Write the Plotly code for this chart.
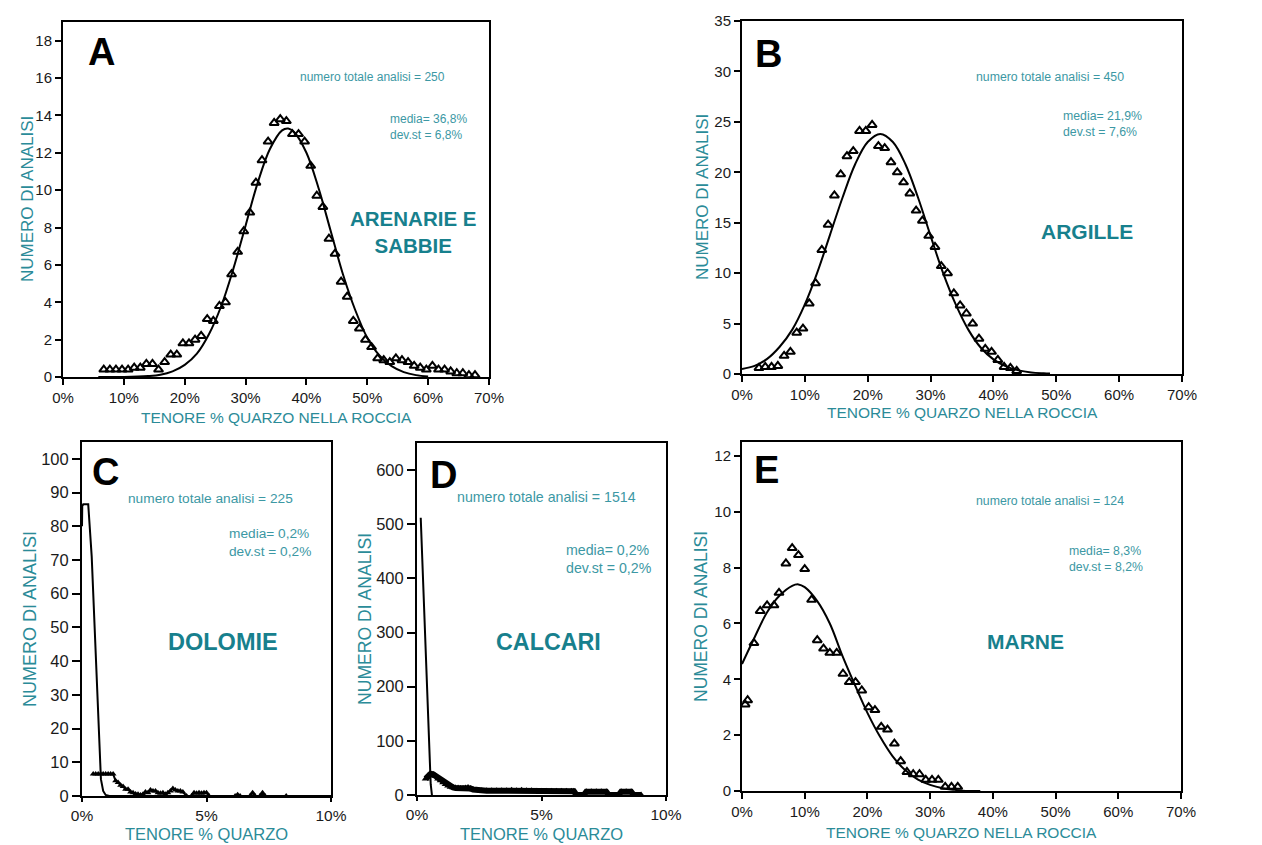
import plotly.graph_objects as go

W, H = 1262, 845

# ---------------- DATA ----------------
# Panel A - ARENARIE E SABBIE
a_x = [6.7, 7.7, 8.7, 9.7, 10.7, 11.7, 12.7, 13.7, 14.7, 15.7, 16.7, 17.7, 18.7, 19.7, 20.7,
       21.7, 22.7, 23.7, 24.7, 25.7, 26.7, 27.7, 28.7, 29.7, 30.7, 31.7, 32.7, 33.7, 34.7, 35.7,
       36.7, 37.7, 38.7, 39.7, 40.7, 41.7, 42.7, 43.7, 44.7, 45.7, 46.7, 47.7, 48.7, 49.7, 50.7,
       51.7, 52.7, 53.7, 54.7, 55.7, 56.7, 57.7, 58.7, 59.7, 60.7, 61.7, 62.7, 63.7, 64.7, 65.7,
       66.7, 67.7]
a_y = [0.4, 0.4, 0.4, 0.4, 0.4, 0.5, 0.5, 0.7, 0.7, 0.4, 0.8, 1.2, 1.2, 1.8, 1.8,
       2.0, 2.2, 3.1, 3.0, 3.8, 4.0, 5.5, 6.7, 7.8, 8.8, 10.4, 11.6, 12.6, 13.6, 13.8,
       13.7, 13.0, 13.0, 12.6, 11.3, 9.7, 9.1, 7.4, 6.6, 5.1, 4.3, 3.0, 2.6, 2.0, 1.6,
       1.0, 0.9, 0.8, 1.0, 0.9, 0.8, 0.6, 0.5, 0.4, 0.6, 0.4, 0.4, 0.3, 0.2, 0.2,
       0.1, 0.1]
a_fit_x = [5.8, 10, 14, 16, 18, 20, 22, 24, 26, 28, 30, 32, 34, 36, 37, 38, 40, 42, 44, 46,
           48, 50, 52, 54, 56, 58, 60]
a_fit_y = [0.0, 0.0, 0.05, 0.12, 0.3, 0.65, 1.25, 2.3, 3.8, 5.8, 8.1, 10.4, 12.2, 13.2, 13.3,
           13.1, 12.0, 10.1, 7.8, 5.5, 3.6, 2.1, 1.15, 0.58, 0.26, 0.1, 0.03]

# Panel B - ARGILLE
b_x = [2.7, 3.7, 4.7, 5.7, 6.7, 7.7, 8.7, 9.7, 10.7, 11.7, 12.7, 13.7, 14.7, 15.7, 16.7,
       17.7, 18.7, 19.7, 20.7, 21.7, 22.7, 23.7, 24.7, 25.7, 26.7, 27.7, 28.7, 29.7, 30.7,
       31.7, 32.7, 33.7, 34.7, 35.7, 36.7, 37.7, 38.7, 39.7, 40.7, 41.7, 42.7, 43.7]
b_y = [0.6, 0.7, 0.7, 0.8, 1.8, 2.2, 4.1, 4.5, 7.0, 9.0, 12.3, 14.8, 17.7, 19.8, 21.6,
       22.1, 24.1, 24.1, 24.7, 22.6, 22.4, 21.0, 20.0, 19.0, 17.9, 16.2, 15.2, 13.7, 12.6,
       10.7, 10.0, 8.0, 6.8, 6.0, 5.0, 3.5, 2.5, 2.2, 1.4, 0.7, 0.6, 0.3]
b_fit_x = [0, 2, 4, 6, 8, 10, 12, 14, 16, 18, 20, 22, 24, 26, 28, 30, 32, 34, 36, 38, 40,
           42, 44, 46, 48, 49]
b_fit_y = [0.5, 0.8, 1.5, 2.7, 4.4, 6.9, 10.1, 13.8, 17.5, 20.8, 23.0, 23.8, 23.0, 20.8,
           17.5, 13.7, 10.0, 6.9, 4.4, 2.6, 1.45, 0.75, 0.36, 0.16, 0.07, 0.04]

# Panel C - DOLOMIE
c_x = [0.45, 0.55, 0.65, 0.75, 0.85, 0.95, 1.05, 1.15, 1.25, 1.35, 1.45, 1.55, 1.65, 1.75,
       1.85, 1.95, 2.05, 2.15, 2.25, 2.35, 2.45, 2.55, 2.65, 2.75, 2.85, 2.95, 3.05, 3.15,
       3.25, 3.35, 3.45, 3.55, 3.65, 3.75, 3.85, 3.95, 4.05, 4.2, 4.4, 4.5, 4.6, 4.7, 4.8,
       4.9, 5.0, 5.1, 6.15, 6.25, 6.35, 6.75, 6.85, 6.95, 7.15, 7.25, 7.35, 8.2]
c_y = [6.5, 6.5, 6.5, 6.5, 6.5, 6.5, 6.5, 6.5, 6.5, 4.5, 4.0, 3.2, 2.8, 2.0,
       2.0, 1.2, 1.0, 0.6, 0.5, 0.3, 0.5, 1.2, 1.0, 1.8, 1.5, 1.5, 1.0, 0.8,
       1.0, 0.5, 1.0, 1.5, 2.2, 1.8, 1.5, 1.5, 1.2, 0.0, 0.0, 1.0, 0.8, 1.0, 0.8,
       1.0, 1.0, 0.0, 0.0, 0.4, 0.0, 0.0, 1.0, 0.0, 0.0, 1.0, 0.0, 0.0]
c_fit_x = [0, 0.01, 0.05, 0.25, 0.39, 0.52, 0.65, 0.76, 0.85, 0.95, 1.1, 10]
c_fit_y = [80, 86, 86.5, 86.5, 71, 46, 21.5, 5, 1.5, 0.3, 0, 0]

# Panel D - CALCARI
d_x = [0.35, 0.45, 0.55, 0.65, 0.75, 0.85, 0.95, 1.05, 1.15, 1.25, 1.35, 1.45, 1.55, 1.65,
       1.75, 1.85, 1.95, 2.05, 2.15, 2.25, 2.4, 2.6, 2.8, 3.0, 3.2, 3.4, 3.6, 3.8, 4.0, 4.2,
       4.4, 4.6, 4.8, 5.0, 5.2, 5.4, 5.6, 5.8, 6.0, 6.2, 6.3, 6.4, 6.7, 6.8, 7.0, 7.2, 7.4,
       7.6, 7.7, 8.1, 8.2, 8.4, 8.6, 8.7, 9.0]
d_y = [30, 36, 39, 38, 35, 30, 27, 23, 20, 17, 15, 14, 13, 13,
       12, 12, 13, 14, 12, 10, 9, 8, 8, 8, 8, 8, 8, 9, 8, 9,
       8, 8, 7, 7, 7, 7, 7, 7, 7, 7, 7, 0, 0, 6, 6, 6, 6,
       6, 0, 0, 6, 6, 6, 0, 0]
d_fit_x = [0.15, 0.3, 0.45, 0.55, 0.6]
d_fit_y = [512, 330, 130, 20, 0]

# Panel E - MARNE
e_x = [0.5, 0.9, 1.9, 2.9, 4.0, 5.1, 5.9, 7.0, 8.0, 9.0, 10.0, 11.1, 12.0, 13.0, 14.0, 15.1,
       16.1, 17.1, 18.1, 19.1, 20.2, 21.2, 22.2, 23.2, 24.3, 25.3, 26.3, 27.3, 28.3, 29.3,
       30.3, 31.3, 32.4, 33.4, 34.4]
e_y = [3.1, 3.25, 5.3, 6.45, 6.65, 6.65, 7.1, 8.15, 8.7, 8.45, 7.95, 6.85, 5.4, 5.1, 4.95,
       4.95, 4.2, 3.9, 3.9, 3.6, 3.0, 2.9, 2.3, 2.2, 1.7, 1.07, 0.68, 0.6, 0.6, 0.4,
       0.4, 0.4, 0.15, 0.15, 0.15]
e_fit_x = [0, 2, 4, 6, 8, 9, 10, 12, 14, 16, 18, 20, 22, 24, 26, 28, 30, 32, 34, 36, 38]
e_fit_y = [4.55, 5.5, 6.4, 7.0, 7.35, 7.4, 7.3, 6.8, 6.0, 4.85, 3.8, 2.8, 1.95, 1.25, 0.75,
           0.42, 0.22, 0.1, 0.04, 0.0, 0.0]

panels = {
    "A": dict(label="A", name="ARENARIE E<br>SABBIE", n="250", media="36,8%", dev="6,8%",
              x=a_x, y=a_y, fx=a_fit_x, fy=a_fit_y, xr=[0, 70], yr=[0, 19], xd=10, yd=2),
    "B": dict(label="B", name="ARGILLE", n="450", media="21,9%", dev="7,6%",
              x=b_x, y=b_y, fx=b_fit_x, fy=b_fit_y, xr=[0, 70], yr=[0, 35], xd=10, yd=5),
    "C": dict(label="C", name="DOLOMIE", n="225", media="0,2%", dev="0,2%",
              x=c_x, y=c_y, fx=c_fit_x, fy=c_fit_y, xr=[0, 10], yr=[0, 105], xd=5, yd=10),
    "D": dict(label="D", name="CALCARI", n="1514", media="0,2%", dev="0,2%",
              x=d_x, y=d_y, fx=d_fit_x, fy=d_fit_y, xr=[0, 10], yr=[0, 650], xd=5, yd=100),
    "E": dict(label="E", name="MARNE", n="124", media="8,3%", dev="8,2%",
              x=e_x, y=e_y, fx=e_fit_x, fy=e_fit_y, xr=[0, 70], yr=[0, 12.5], xd=10, yd=2),
}

# ---------------- LAYOUT (pixel boxes) ----------------
boxes = {  # left, top, right, bottom in px
    "A": (63, 22, 489, 377),
    "B": (742, 21, 1182, 374),
    "C": (82, 442, 331, 796),
    "D": (417, 443, 666, 795),
    "E": (742, 442, 1181, 791),
}
FONT = "Liberation Sans, Arial, Helvetica, sans-serif"
TEAL = "#2b8b98"
TEAL_BOLD = "#17808d"
TEAL_SMALL = "#3c98a4"

def px(x):
    return x / W

def py(y):
    return 1 - y / H

text_pos = {
    "A": dict(letter=(101, 52), n=(372, 77), media=(388, 118), name=(413, 232), ytx=27.5, xty=417,
              fs_small=12, fs_name=20.5, fs_xtick=15, fs_ytick=15, fs_xt=15.5, fs_yt=17, xtl=6, ytl=6,
              xtitle="TENORE % QUARZO NELLA ROCCIA"),
    "B": dict(letter=(768, 54), n=(1050, 77), media=(1061, 115), name=(1087, 232), ytx=702.5, xty=413,
              fs_small=12.3, fs_name=21, fs_xtick=15, fs_ytick=15, fs_xt=15.5, fs_yt=17, xtl=6, ytl=6,
              xtitle="TENORE % QUARZO NELLA ROCCIA"),
    "C": dict(letter=(105, 472), n=(210, 499), media=(227, 532), name=(223, 642), ytx=30, xty=834,
              fs_small=13.7, fs_name=23.5, fs_xtick=15.5, fs_ytick=16.5, fs_xt=16.5, fs_yt=18, xtl=4, ytl=8,
              xtitle="TENORE % QUARZO"),
    "D": dict(letter=(443, 475), n=(546, 497), media=(564, 548), name=(548, 642), ytx=365, xty=834,
              fs_small=14.2, fs_name=23.3, fs_xtick=15.5, fs_ytick=16.5, fs_xt=16.5, fs_yt=17.6, xtl=4, ytl=8,
              xtitle="TENORE % QUARZO"),
    "E": dict(letter=(766, 470), n=(1050, 501), media=(1067, 550), name=(1025, 641), ytx=700.5, xty=832,
              fs_small=12.3, fs_name=21, fs_xtick=15, fs_ytick=15, fs_xt=15.5, fs_yt=17.5, xtl=6, ytl=6,
              xtitle="TENORE % QUARZO NELLA ROCCIA"),
}

fig = go.Figure()
layout_axes = {}
annotations = []

for i, key in enumerate(["A", "B", "C", "D", "E"]):
    p = panels[key]
    t = text_pos[key]
    l, tp, r, b = boxes[key]
    idx = "" if i == 0 else str(i + 1)
    xa, ya = "x" + idx, "y" + idx

    fig.add_trace(go.Scatter(x=p["fx"], y=p["fy"], mode="lines", xaxis=xa, yaxis=ya,
                             line=dict(color="black", width=2), showlegend=False,
                             line_shape="spline" if key in ("A", "B", "E") else "linear"))
    if key in ("A", "B", "E"):
        fig.add_trace(go.Scatter(x=p["x"], y=p["y"], mode="markers", xaxis=xa, yaxis=ya,
                                 marker=dict(symbol="triangle-up-open", size=8, color="black",
                                             line=dict(width=2)),
                                 showlegend=False))
    elif key == "C":
        fig.add_trace(go.Scatter(x=p["x"], y=p["y"], mode="lines+markers", xaxis=xa, yaxis=ya,
                                 line=dict(color="black", width=2),
                                 marker=dict(symbol="triangle-up", size=6, color="black"),
                                 showlegend=False))
    else:
        fig.add_trace(go.Scatter(x=p["x"], y=p["y"], mode="lines+markers", xaxis=xa, yaxis=ya,
                                 line=dict(color="black", width=6),
                                 marker=dict(symbol="triangle-up", size=7, color="black"),
                                 showlegend=False))

    xticks = list(range(int(p["xr"][0]), int(p["xr"][1]) + 1, p["xd"]))
    yticks = []
    v = 0
    while v <= p["yr"][1] + 1e-9:
        yticks.append(v)
        v += p["yd"]

    layout_axes["xaxis" + idx] = dict(
        domain=[px(l), px(r)], range=p["xr"], anchor=ya, tickvals=xticks,
        ticktext=[f"{v}%" for v in xticks], ticks="outside", ticklen=t["xtl"], tickwidth=1.5,
        tickcolor="black", showline=True, linecolor="black", linewidth=2, mirror=True,
        showgrid=False, zeroline=False, fixedrange=True, automargin=False,
        tickfont=dict(family=FONT, size=t["fs_xtick"], color="#1a1a1a"))
    layout_axes["yaxis" + idx] = dict(
        domain=[py(b), py(tp)], range=p["yr"], anchor=xa, tickvals=yticks,
        ticks="outside", ticklen=t["ytl"], tickwidth=1.5, tickcolor="black",
        showline=True, linecolor="black", linewidth=2, mirror=True,
        showgrid=False, zeroline=False, fixedrange=True, automargin=False,
        tickfont=dict(family=FONT, size=t["fs_ytick"], color="#1a1a1a"))

    annotations.append(dict(text=f"<b>{p['label']}</b>", x=px(t["letter"][0]), y=py(t["letter"][1]),
                            xref="paper", yref="paper", showarrow=False, xanchor="center",
                            yanchor="middle", font=dict(family=FONT, size=38, color="black")))
    annotations.append(dict(text=f"numero totale analisi = {p['n']}", x=px(t["n"][0]), y=py(t["n"][1]),
                            xref="paper", yref="paper", showarrow=False, xanchor="center",
                            yanchor="middle", font=dict(family=FONT, size=t["fs_small"], color=TEAL_SMALL)))
    annotations.append(dict(text=f"media= {p['media']}<br>dev.st = {p['dev']}",
                            x=px(t["media"][0]), y=py(t["media"][1] - 8),
                            xref="paper", yref="paper", showarrow=False, xanchor="left",
                            yanchor="top", align="left",
                            font=dict(family=FONT, size=t["fs_small"], color=TEAL_SMALL)))
    annotations.append(dict(text=f"<b>{p['name']}</b>", x=px(t["name"][0]), y=py(t["name"][1]),
                            xref="paper", yref="paper", showarrow=False, xanchor="center",
                            yanchor="middle", align="center",
                            font=dict(family=FONT, size=t["fs_name"], color=TEAL_BOLD)))
    annotations.append(dict(text="NUMERO DI ANALISI", x=px(t["ytx"]), y=py((tp + b) / 2),
                            xref="paper", yref="paper", showarrow=False, textangle=-90,
                            xanchor="center", yanchor="middle",
                            font=dict(family=FONT, size=t["fs_yt"], color=TEAL)))
    annotations.append(dict(text=t["xtitle"], x=px((l + r) / 2), y=py(t["xty"]),
                            xref="paper", yref="paper", showarrow=False,
                            xanchor="center", yanchor="middle",
                            font=dict(family=FONT, size=t["fs_xt"], color=TEAL)))

fig.update_layout(
    width=W, height=H, margin=dict(l=0, r=0, t=0, b=0, pad=0),
    paper_bgcolor="white", plot_bgcolor="white",
    annotations=annotations, showlegend=False,
    **layout_axes,
)

fig.write_html("out.html", config={"displayModeBar": False},
               post_script="document.body.style.margin='0';document.body.style.overflow='hidden';")
